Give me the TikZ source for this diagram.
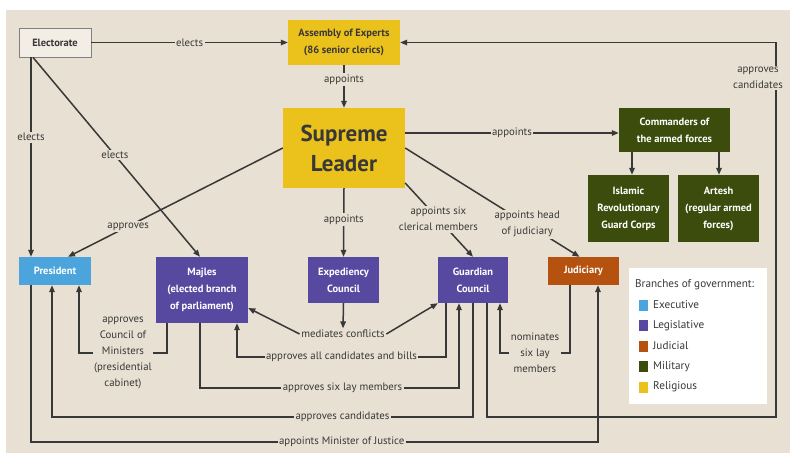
\documentclass[tikz,border=0pt]{standalone}
\usepackage{fontspec}
\setmainfont{PT Sans}
\usetikzlibrary{arrows.meta,calc}
\definecolor{bg}{HTML}{E8E0D2}
\definecolor{ylw}{HTML}{EBC11B}
\definecolor{grn}{HTML}{3C4C0D}
\definecolor{pur}{HTML}{5849A0}
\definecolor{blu}{HTML}{4BA5DC}
\definecolor{org}{HTML}{B5520F}
\definecolor{lc}{HTML}{383838}
\tikzset{
  box/.style={rectangle, inner sep=2pt, align=center, text=white, font=\bfseries\fontsize{10.5}{17}\selectfont},
  lbl/.style={fill=bg, inner sep=1.5pt, align=center, text=lc, font=\fontsize{10.8}{16}\selectfont},
  arr/.style={draw=lc, line width=1.5pt, -{Triangle[length=7pt,width=5.5pt]}},
  legsq/.style={rectangle, minimum width=9pt, minimum height=11pt, inner sep=0pt},
  legtx/.style={anchor=west, text=lc, font=\fontsize{11.2}{13}\selectfont, inner sep=0pt}
}
\begin{document}
\begin{tikzpicture}[x=1pt,y=-1pt]
\useasboundingbox (0,0) rectangle (790,455);
\fill[white] (0,0) rectangle (790,455);
\fill[bg] (6,10) rectangle (790,453);

% nodes
\node[box, fill=bg!55!white, draw=gray, line width=0.8pt, text=lc, minimum width=72, minimum height=29] (el) at (55,42.5) {Electorate};
\node[box, fill=ylw, text=lc, minimum width=112, minimum height=45] (ae) at (344,42.5) {Assembly of Experts\\(86 senior clerics)};
\node[box, fill=ylw, text=lc, minimum width=122, minimum height=80, font=\bfseries\fontsize{23}{30}\selectfont] (sl) at (344,148) {Supreme\\Leader};
\node[box, fill=grn, minimum width=111, minimum height=44] (cmd) at (674.5,130) {Commanders of\\the armed forces};
\node[box, fill=grn, minimum width=81, minimum height=67] (irgc) at (628.5,208.5) {Islamic\\Revolutionary\\Guard Corps};
\node[box, fill=grn, minimum width=81, minimum height=67] (art) at (718.5,208.5) {Artesh\\(regular armed\\forces)};
\node[box, fill=blu, minimum width=72, minimum height=28] (pres) at (55,271) {President};
\node[box, fill=pur, minimum width=92, minimum height=66] (maj) at (202,290) {Majles\\(elected branch\\of parliament)};
\node[box, fill=pur, minimum width=71, minimum height=46] (exp) at (343.5,280) {Expediency\\Council};
\node[box, fill=pur, minimum width=70, minimum height=46] (gc) at (473,280) {Guardian\\Council};
\node[box, fill=org, minimum width=71, minimum height=28] (jud) at (583.5,271) {Judiciary};

% legend
\node[fill=white, minimum width=138, minimum height=136, inner sep=0pt] (leg) at (698,336) {};
\node[legtx] (legt) at (635,285) {Branches of government:};
\node[legsq, fill=blu] (s1) at (643.5,305) {};
\node[legsq, fill=pur] (s2) at (643.5,325.5) {};
\node[legsq, fill=org] (s3) at (643.5,346) {};
\node[legsq, fill=grn] (s4) at (643.5,366.5) {};
\node[legsq, fill=ylw] (s5) at (643.5,387) {};
\node[legtx] at (653,305) {Executive};
\node[legtx] at (653,325.5) {Legislative};
\node[legtx] at (653,346) {Judicial};
\node[legtx] at (653,366.5) {Military};
\node[legtx] at (653,387) {Religious};

% connectors
\draw[arr] (el.east) -- node[lbl]{elects} (ae.west);
\draw[arr] (ae.south) -- node[lbl, pos=0.33]{appoints} (sl.north);
\draw[arr] ([xshift=-24pt]el.south) -- node[lbl, pos=0.4]{elects} ([xshift=-24pt]pres.north);
\draw[arr] ([xshift=-22pt]el.south) -- node[lbl, pos=0.49]{elects} ([xshift=-2pt]maj.north);
\draw[arr] (sl.west) -- node[lbl, pos=0.72]{approves} ([xshift=13pt]pres.north);
\draw[arr] (sl.south) -- node[lbl, pos=0.46]{appoints} (exp.north);
\draw[arr] ([yshift=-35pt]sl.east) -- node[lbl, pos=0.49]{appoints six\\clerical members} (gc.north);
\draw[arr] (sl.east) -- node[lbl, pos=0.70]{appoints head\\of judiciary} ([xshift=-4pt]jud.north);
\draw[arr] ([yshift=15pt]sl.east) coordinate (s1e) -- node[lbl]{appoints} (s1e -| cmd.west);
\draw[arr] ([xshift=-42.5pt]cmd.south) -- ([xshift=3.5pt]irgc.north);
\draw[arr] ([xshift=44.5pt]cmd.south) -- ([xshift=0.5pt]art.north);

% Guardian Council -> Assembly of Experts
\coordinate (gcA) at (776,417);
\draw[arr] ([xshift=14pt]gc.south) |- (gcA) -- node[lbl, pos=0.905, xshift=-18pt]{approves\\candidates} (gcA |- ae.east) -- (ae.east);

% mediates conflicts
\node[lbl] (med) at (343,334) {mediates conflicts};
\draw[arr] (exp.south) -- (med.north);
\draw[arr] (med.west) -- ([yshift=-18pt]maj.east);
\draw[arr] (med.east) -- (gc.south west);

% Guardian -> Majles
\draw[arr] ([xshift=-27pt]gc.south) -- ++(0,54) -| node[lbl, pos=0.25]{approves all candidates and bills} ([xshift=35pt]maj.south);
% Majles -> Guardian
\draw[arr] ([xshift=-2pt]maj.south) -- ++(0,65) -| node[lbl, pos=0.275]{approves six lay members} ([xshift=-14pt]gc.south);
% Guardian -> President
\draw[arr] (gc.south) -- ++(0,114) -| node[lbl, pos=0.155]{approves candidates} ([xshift=-3pt]pres.south);
% President -> Judiciary
\draw[arr] ([xshift=-24pt]pres.south) -- ++(0,157) -| node[lbl, pos=0.274]{appoints Minister of Justice} ([xshift=14.5pt]jud.south);
% Majles -> President
\draw[arr] ([xshift=-35pt]maj.south) -- ++(0,30) -| node[lbl, pos=0.25]{approves\\Council of\\Ministers\\(presidential\\cabinet)} ([xshift=24pt]pres.south);
% Judiciary -> Guardian
\draw[arr] ([xshift=-13.5pt]jud.south) -- ++(0,68) -| node[lbl, pos=0.25]{nominates\\six lay\\members} ([xshift=27pt]gc.south);
\end{tikzpicture}
\end{document}
